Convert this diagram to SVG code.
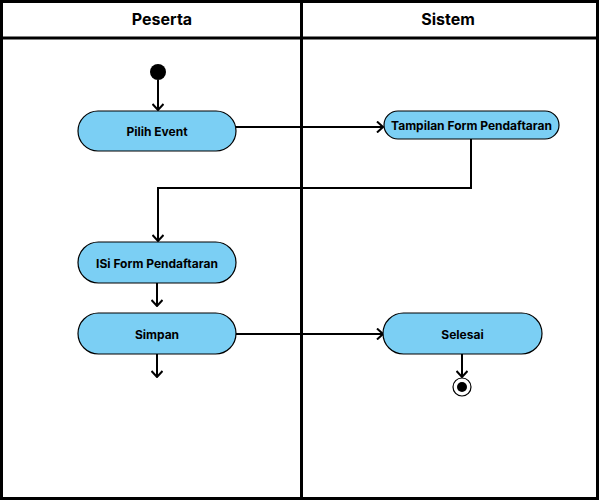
<svg xmlns="http://www.w3.org/2000/svg" width="600" height="500" viewBox="0 0 600 500">
<defs>
<style>
.lane{fill:none;stroke:#000;stroke-width:3}
.hdr{font-family:Inter,"Liberation Sans",sans-serif;font-weight:bold;font-size:16px;fill:#000;text-anchor:middle}
.act{fill:#7BCFF4;stroke:#000;stroke-width:1.2}
.lbl{font-family:Inter,"Liberation Sans",sans-serif;font-weight:bold;font-size:12px;fill:#000;text-anchor:middle;dominant-baseline:central}
.edge{fill:none;stroke:#000;stroke-width:2}
</style>
<marker id="arr" viewBox="0 0 12 12" refX="11" refY="6" markerWidth="12" markerHeight="12" markerUnits="userSpaceOnUse" orient="auto">
<path d="M5,0.5 L11,6 L5,11.5" fill="none" stroke="#000" stroke-width="2"/>
</marker>
</defs>
<rect width="600" height="500" fill="#fff"/>
<g id="lanes">
<rect class="lane" x="1.5" y="1.5" width="596" height="497"/>
<line class="lane" x1="1.5" y1="38" x2="597.5" y2="38"/>
<line class="lane" x1="301.5" y1="1.5" x2="301.5" y2="498.5"/>
<text class="hdr" x="162" y="25">Peserta</text>
<text class="hdr" x="448" y="25">Sistem</text>
</g>
<g id="connectors">
<line class="edge" x1="158" y1="80" x2="158" y2="110" marker-end="url(#arr)"/>
<line class="edge" x1="236" y1="127" x2="383" y2="127" marker-end="url(#arr)"/>
<polyline class="edge" points="471,139 471,188 158,188 158,241" marker-end="url(#arr)"/>
<line class="edge" x1="157" y1="283" x2="157" y2="306" marker-end="url(#arr)"/>
<line class="edge" x1="236" y1="334" x2="383" y2="334" marker-end="url(#arr)"/>
<line class="edge" x1="157" y1="354" x2="157" y2="377" marker-end="url(#arr)"/>
<line class="edge" x1="462" y1="354" x2="462" y2="377" marker-end="url(#arr)"/>
</g>
<g id="start">
<circle cx="158" cy="72" r="8" fill="#000"/>
</g>
<g id="pilih-event">
<rect class="act" x="78" y="111" width="158" height="40" rx="20"/>
<text class="lbl" x="157" y="131">Pilih Event</text>
</g>
<g id="tampilan-form">
<rect class="act" x="384" y="111" width="175" height="28" rx="14"/>
<text class="lbl" x="471.5" y="125">Tampilan Form Pendaftaran</text>
</g>
<g id="isi-form">
<rect class="act" x="78" y="242" width="158" height="41" rx="20.5"/>
<text class="lbl" x="157" y="263">ISi Form Pendaftaran</text>
</g>
<g id="simpan">
<rect class="act" x="78" y="313" width="158" height="41" rx="20.5"/>
<text class="lbl" x="157" y="334">Simpan</text>
</g>
<g id="selesai">
<rect class="act" x="383" y="313" width="159" height="41" rx="20.5"/>
<text class="lbl" x="462.5" y="334">Selesai</text>
</g>
<g id="end">
<circle cx="462" cy="387" r="9" fill="#fff" stroke="#000" stroke-width="1.2"/>
<circle cx="462" cy="387" r="5" fill="#000"/>
</g>
</svg>
